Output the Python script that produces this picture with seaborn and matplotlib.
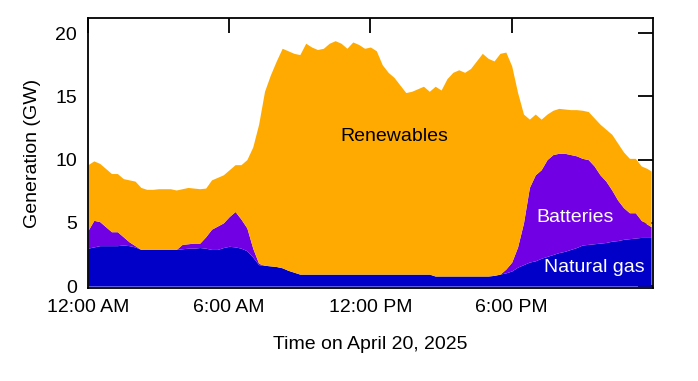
import numpy as np
import pandas as pd
import matplotlib
matplotlib.use("Agg")
import matplotlib.pyplot as plt
import seaborn as sns

# hours since midnight, 15-minute steps (last sample just before midnight)
hours = list(np.arange(0, 24, 0.25)) + [23.92]

# generation in GW
natural_gas = [
    3.0, 3.1, 3.2, 3.2,
    3.2, 3.2, 3.25, 3.2,
    3.1, 2.9, 2.9, 2.9,
    2.9, 2.9, 2.9, 2.9,
    2.95, 3.0, 3.0, 3.05,
    3.0, 2.9, 2.9, 3.05,
    3.15, 3.1, 3.0, 2.8,
    2.3, 1.7, 1.65, 1.6,
    1.55, 1.45, 1.25, 1.1,
    0.95, 0.95, 0.95, 0.95,
    0.95, 0.95, 0.95, 0.95,
    0.95, 0.95, 0.95, 0.95,
    0.95, 0.95, 0.95, 0.95,
    0.95, 0.95, 0.95, 0.95,
    0.95, 0.95, 0.95, 0.8,
    0.8, 0.8, 0.8, 0.8,
    0.8, 0.8, 0.8, 0.8,
    0.8, 0.85, 0.95, 1.05,
    1.2, 1.5, 1.7, 1.9,
    2.0, 2.2, 2.35, 2.5,
    2.65, 2.75, 2.9, 3.05,
    3.25, 3.3, 3.35, 3.4,
    3.45, 3.55, 3.6, 3.7,
    3.75, 3.8, 3.85, 3.85, 3.85,
]
batteries = [
    1.4, 2.1, 1.9, 1.5,
    1.1, 1.1, 0.65, 0.3,
    0.1, 0, 0, 0,
    0, 0, 0, 0,
    0.35, 0.35, 0.4, 0.35,
    0.9, 1.6, 1.85, 1.95,
    2.35, 2.8, 2.3, 1.8,
    0.7, 0.1, 0, 0,
    0, 0, 0, 0,
    0, 0, 0, 0,
    0, 0, 0, 0,
    0, 0, 0, 0,
    0, 0, 0, 0,
    0, 0, 0, 0,
    0, 0, 0, 0,
    0, 0, 0, 0,
    0, 0, 0, 0,
    0, 0, 0, 0.3,
    0.7, 1.6, 3.3, 5.9,
    6.8, 7.0, 7.65, 7.9,
    7.85, 7.75, 7.5, 7.25,
    6.85, 6.7, 6.15, 5.4,
    4.85, 4.05, 3.2, 2.5,
    2.05, 2.0, 1.35, 1.05, 0.85,
]
renewables = [
    5.2, 4.7, 4.6, 4.6,
    4.6, 4.6, 4.6, 4.9,
    5.1, 4.9, 4.75, 4.75,
    4.8, 4.8, 4.8, 4.7,
    4.4, 4.45, 4.35, 4.3,
    3.85, 3.9, 3.85, 3.8,
    3.7, 3.7, 4.3, 5.4,
    8.0, 11.0, 13.75, 15.1,
    16.25, 17.35, 17.35, 17.3,
    17.35, 18.25, 17.95, 17.75,
    17.85, 18.25, 18.45, 18.25,
    17.85, 18.35, 18.15, 17.85,
    17.95, 17.65, 16.55, 15.95,
    15.55, 14.95, 14.35, 14.45,
    14.65, 14.85, 14.45, 15.0,
    14.7, 15.6, 16.1, 16.3,
    16.1, 16.4, 17.0, 17.6,
    17.2, 16.95, 17.45, 17.15,
    15.5, 12.2, 8.6, 5.4,
    4.8, 4.0, 3.6, 3.5,
    3.55, 3.5, 3.55, 3.65,
    3.8, 3.8, 3.8, 4.0,
    4.1, 4.4, 4.5, 4.4,
    4.3, 4.3, 4.3, 4.4, 4.4,
]

tick_hours = [0, 6, 12, 18]
tick_labels = ["12:00 AM", "6:00 AM", "12:00 PM", "6:00 PM"]

df = pd.DataFrame({"hour": hours, "Natural gas": natural_gas,
                   "Batteries": batteries, "Renewables": renewables})

sns.set_theme(style="white")
plt.rcParams["font.family"] = ["Liberation Sans", "DejaVu Sans"]
plt.rcParams["text.color"] = "black"
plt.rcParams["axes.labelcolor"] = "black"

colors = {"Natural gas": "#0000c8", "Batteries": "#7200e4", "Renewables": "#ffaa00"}

fig, ax = plt.subplots(figsize=(6.98, 3.81), dpi=100)
fig.subplots_adjust(left=0.126, right=0.9355, bottom=0.244, top=0.953)

ax.stackplot(df["hour"], df["Natural gas"], df["Batteries"], df["Renewables"],
             colors=[colors[k] for k in ["Natural gas", "Batteries", "Renewables"]],
             linewidth=0)

ax.text(13.0, 11.8, "Renewables", fontsize=14, color="black", ha="center", va="center")
ax.text(20.7, 5.4, "Batteries", fontsize=14, color="white", ha="center", va="center")
ax.text(21.5, 1.5, "Natural gas", fontsize=14, color="white", ha="center", va="center")

ax.set_xlim(0, 24)
ax.set_ylim(-0.15, 21.2)
ax.set_xticks(tick_hours)
ax.set_xticklabels(tick_labels)
ax.set_yticks([0, 5, 10, 15, 20])
ax.tick_params(direction="in", length=11, width=1.3, top=True, right=True,
               labelsize=14, pad=8, colors="black")
for s in ax.spines.values():
    s.set_color("black")
    s.set_linewidth(1.3)

ax.set_xlabel("Time on April 20, 2025", fontsize=14, labelpad=14)
ax.set_ylabel("Generation (GW)", fontsize=14, labelpad=10)

fig.savefig("out.png", dpi=100)
